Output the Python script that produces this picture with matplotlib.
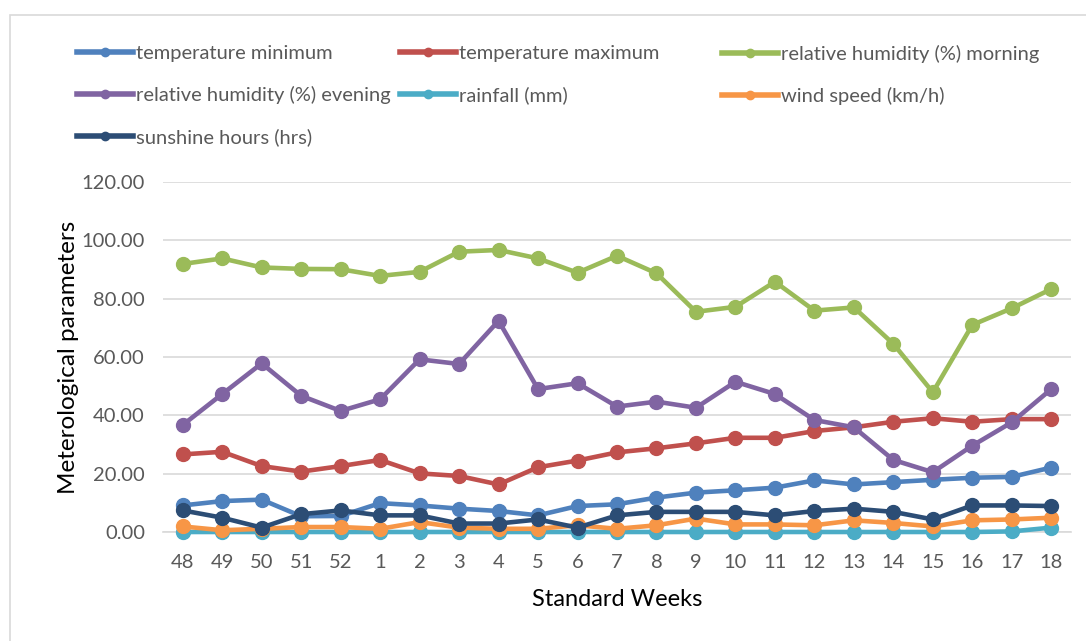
import matplotlib.pyplot as plt
from matplotlib.lines import Line2D
from matplotlib.patches import Rectangle

plt.rcParams["font.family"] = ["Lato", "DejaVu Sans"]

WEEKS = ["48", "49", "50", "51", "52", "1", "2", "3", "4", "5", "6", "7",
         "8", "9", "10", "11", "12", "13", "14", "15", "16", "17", "18"]

TEMP_MIN = [9.1, 10.6, 11.1, 5.4, 5.5, 9.9, 9.1, 8.0, 7.2, 5.7, 8.9, 9.5,
            11.8, 13.5, 14.3, 15.2, 17.7, 16.3, 17.1, 17.9, 18.6, 18.9, 22.1]
TEMP_MAX = [26.6, 27.5, 22.6, 20.7, 22.6, 24.7, 20.1, 19.2, 16.3, 22.2, 24.5, 27.3,
            28.7, 30.4, 32.3, 32.3, 34.6, 35.9, 37.8, 39.0, 37.8, 38.7, 38.7]
RH_MORNING = [91.9, 93.8, 90.7, 90.2, 90.1, 87.8, 89.2, 96.1, 96.7, 93.8, 88.9, 94.7,
              88.7, 75.5, 77.2, 85.8, 75.9, 77.0, 64.5, 47.9, 71.0, 76.7, 83.3]
RH_EVENING = [36.7, 47.3, 57.8, 46.7, 41.5, 45.5, 59.2, 57.6, 72.4, 49.0, 51.0, 43.0,
              44.7, 42.6, 51.5, 47.3, 38.4, 35.9, 24.7, 20.5, 29.6, 37.6, 49.0]
RAINFALL = [0.0, 0.0, 0.0, 0.0, 0.0, 0.0, 0.0, 0.0, 0.0, 0.0, 0.0, 0.0,
            0.0, 0.0, 0.0, 0.0, 0.0, 0.0, 0.0, 0.0, 0.0, 0.2, 1.5]
WIND = [1.9, 0.6, 1.1, 1.7, 1.7, 1.1, 3.4, 1.5, 1.1, 1.1, 2.3, 1.1,
        2.3, 4.6, 2.6, 2.6, 2.3, 4.0, 3.1, 1.9, 4.0, 4.3, 4.9]
SUNSHINE = [7.4, 4.9, 1.5, 6.1, 7.4, 5.7, 5.7, 2.9, 2.9, 4.3, 1.5, 5.7,
            6.9, 6.9, 6.9, 5.7, 7.2, 8.0, 6.9, 4.3, 9.1, 9.1, 8.9]

SERIES = [
    ("temperature minimum", TEMP_MIN, "#4F81BD"),
    ("temperature maximum", TEMP_MAX, "#C0504D"),
    ("relative humidity (%) morning", RH_MORNING, "#9BBB59"),
    ("relative humidity (%) evening", RH_EVENING, "#8064A2"),
    ("rainfall (mm)", RAINFALL, "#4BACC6"),
    ("wind speed (km/h)", WIND, "#F79646"),
    ("sunshine hours (hrs)", SUNSHINE, "#2C4D75"),
]
# legend columns as laid out in the original (indices into SERIES)
LEGEND_COLS = [[0, 3, 6], [1, 4], [2, 5]]

GRID = "#D9D9D9"
TXT = "#595959"
W, H = 1086, 641


def main():
    fig = plt.figure(figsize=(W / 100, H / 100), dpi=100)
    fig.patches.append(Rectangle((10 / W, -0.1), 1.2, (1 - 15 / H) + 0.1,
                                 transform=fig.transFigure, fill=False,
                                 edgecolor=GRID, lw=1.2))
    ax = fig.add_axes([163 / W, 1 - 532 / H, (1071 - 163) / W, (532 - 182) / H])

    x = list(range(len(WEEKS)))
    for i, (label, vals, color) in enumerate(SERIES):
        ax.plot(x, vals, color=color, lw=3.3, marker="o", ms=10,
                solid_capstyle="round", zorder=3 + i, clip_on=False)

    ax.set_xlim(-0.5, len(WEEKS) - 0.5)
    ax.set_ylim(0, 120)
    ax.set_yticks(range(0, 121, 20))
    ax.set_yticklabels([f"{v:.2f}" for v in range(0, 121, 20)])
    ax.set_xticks(x, WEEKS)
    ax.tick_params(length=0, labelsize=14.5, colors=TXT)
    ax.tick_params(axis="y", pad=13)
    ax.tick_params(axis="x", pad=16)
    ax.grid(True, axis="y", color=GRID, lw=1.2, zorder=0)
    for s in ("top", "right", "left"):
        ax.spines[s].set_visible(False)
    ax.spines["bottom"].set_color(GRID)
    ax.spines["bottom"].set_linewidth(1.2)
    ax.set_axisbelow(True)

    ax.set_xlabel("Standard Weeks", fontsize=17, color="black", labelpad=13)
    ax.set_ylabel("Meterological parameters", fontsize=17.5, color="black",
                  labelpad=2)

    col_x = [77, 400, 722]
    for cx, idxs in zip(col_x, LEGEND_COLS):
        handles = [Line2D([], [], color=SERIES[k][2], lw=4, marker="o", ms=6)
                   for k in idxs]
        labels = [SERIES[k][0] for k in idxs]
        fig.legend(handles, labels, loc="upper left",
                   bbox_to_anchor=(cx / W, 1 - 45 / H), frameon=False,
                   fontsize=14.5, labelcolor=TXT, handlelength=2.8,
                   handletextpad=0.15, borderpad=0, borderaxespad=0,
                   labelspacing=1.2)

    fig.savefig("out.png", dpi=100)


if __name__ == "__main__":
    main()
